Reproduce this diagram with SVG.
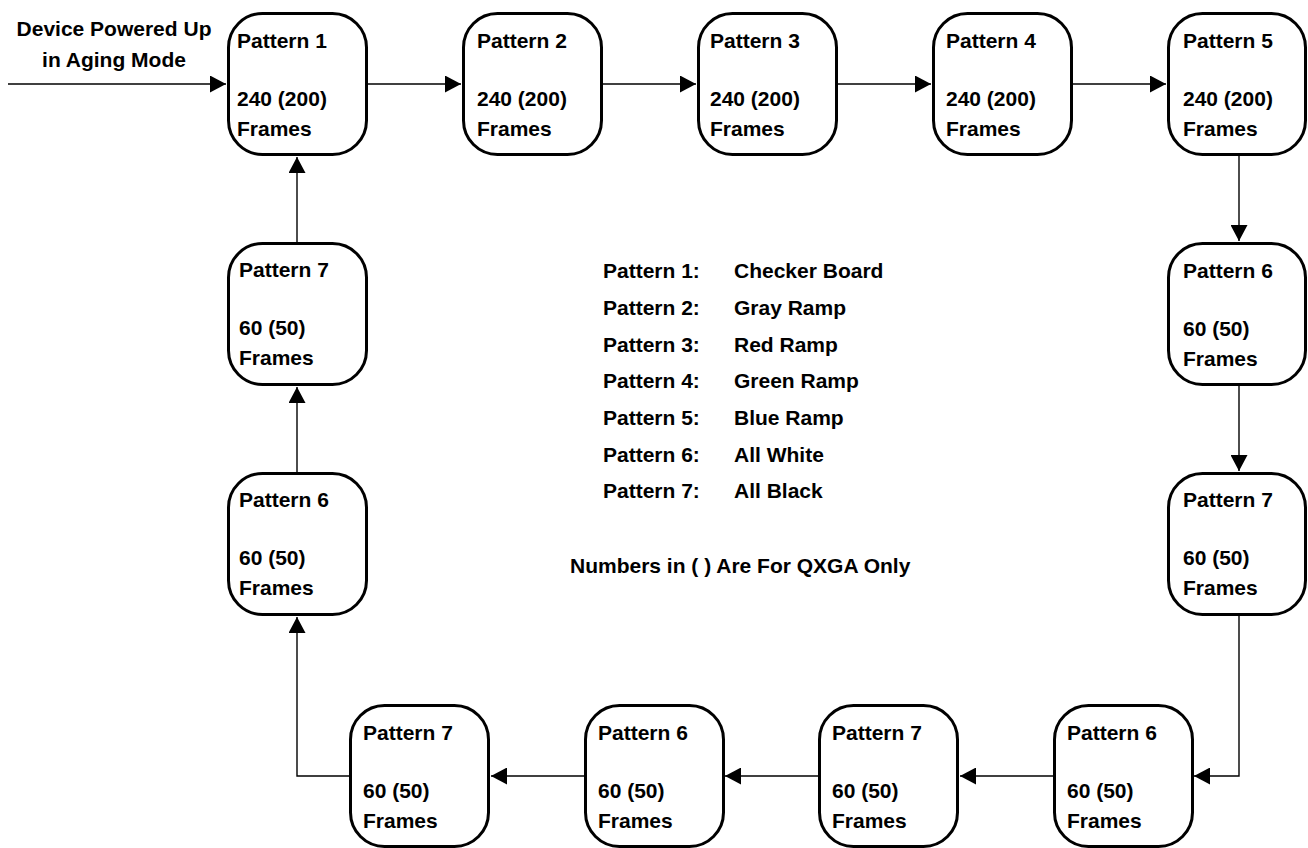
<svg xmlns="http://www.w3.org/2000/svg" width="1308" height="848" viewBox="0 0 1308 848">
<style>
text{font-family:"Liberation Sans",Arial,sans-serif;font-weight:bold;font-size:21px;fill:#000}
.box{fill:#fff;stroke:#000;stroke-width:3}
.conn{fill:none;stroke:#000;stroke-width:1.4}
</style>
<defs>
<marker id="ah" markerUnits="userSpaceOnUse" markerWidth="17" markerHeight="17" refX="16" refY="8.5" orient="auto">
<path d="M0,0 L16,8.5 L0,17 z" fill="#000"/>
</marker>
</defs>
<rect width="1308" height="848" fill="#fff"/>
<g id="connectors">
<path class="conn" d="M8 84 H226" marker-end="url(#ah)"/>
<path class="conn" d="M368 84 H461" marker-end="url(#ah)"/>
<path class="conn" d="M603 84 H696" marker-end="url(#ah)"/>
<path class="conn" d="M838 84 H931" marker-end="url(#ah)"/>
<path class="conn" d="M1073 84 H1166" marker-end="url(#ah)"/>
<path class="conn" d="M1239 156 V241" marker-end="url(#ah)"/>
<path class="conn" d="M1239 386 V471" marker-end="url(#ah)"/>
<path class="conn" d="M1239 616 V776 H1194" marker-end="url(#ah)"/>
<path class="conn" d="M1053 776 H960" marker-end="url(#ah)"/>
<path class="conn" d="M818 776 H725" marker-end="url(#ah)"/>
<path class="conn" d="M584 776 H491" marker-end="url(#ah)"/>
<path class="conn" d="M349 776 H297 V617" marker-end="url(#ah)"/>
<path class="conn" d="M297 472 V387" marker-end="url(#ah)"/>
<path class="conn" d="M297 242 V157" marker-end="url(#ah)"/>
</g>
<g id="start-label">
<text x="114" y="36" text-anchor="middle">Device Powered Up</text>
<text x="114" y="67" text-anchor="middle">in Aging Mode</text>
</g>
<g id="n-t1"><rect class="box" x="228.5" y="13.5" width="138" height="141" rx="34"/><text x="237" y="48">Pattern 1</text><text x="237" y="106">240 (200)</text><text x="237" y="136">Frames</text></g>
<g id="n-t2"><rect class="box" x="463.5" y="13.5" width="138" height="141" rx="34"/><text x="477" y="48">Pattern 2</text><text x="477" y="106">240 (200)</text><text x="477" y="136">Frames</text></g>
<g id="n-t3"><rect class="box" x="698.5" y="13.5" width="138" height="141" rx="34"/><text x="710" y="48">Pattern 3</text><text x="710" y="106">240 (200)</text><text x="710" y="136">Frames</text></g>
<g id="n-t4"><rect class="box" x="933.5" y="13.5" width="138" height="141" rx="34"/><text x="946" y="48">Pattern 4</text><text x="946" y="106">240 (200)</text><text x="946" y="136">Frames</text></g>
<g id="n-t5"><rect class="box" x="1168.5" y="13.5" width="137" height="141" rx="34"/><text x="1183" y="48">Pattern 5</text><text x="1183" y="106">240 (200)</text><text x="1183" y="136">Frames</text></g>
<g id="n-r1"><rect class="box" x="1168.5" y="243.5" width="137" height="141" rx="34"/><text x="1183" y="278">Pattern 6</text><text x="1183" y="336">60 (50)</text><text x="1183" y="366">Frames</text></g>
<g id="n-r2"><rect class="box" x="1168.5" y="473.5" width="137" height="141" rx="34"/><text x="1183" y="507">Pattern 7</text><text x="1183" y="565">60 (50)</text><text x="1183" y="595">Frames</text></g>
<g id="n-b1"><rect class="box" x="1054.5" y="705.5" width="138" height="141" rx="34"/><text x="1067" y="740">Pattern 6</text><text x="1067" y="798">60 (50)</text><text x="1067" y="828">Frames</text></g>
<g id="n-b2"><rect class="box" x="819.5" y="705.5" width="138" height="141" rx="34"/><text x="832" y="740">Pattern 7</text><text x="832" y="798">60 (50)</text><text x="832" y="828">Frames</text></g>
<g id="n-b3"><rect class="box" x="585.5" y="705.5" width="138" height="141" rx="34"/><text x="598" y="740">Pattern 6</text><text x="598" y="798">60 (50)</text><text x="598" y="828">Frames</text></g>
<g id="n-b4"><rect class="box" x="350.5" y="705.5" width="138" height="141" rx="34"/><text x="363" y="740">Pattern 7</text><text x="363" y="798">60 (50)</text><text x="363" y="828">Frames</text></g>
<g id="n-l1"><rect class="box" x="228.5" y="473.5" width="138" height="141" rx="34"/><text x="239" y="507">Pattern 6</text><text x="239" y="565">60 (50)</text><text x="239" y="595">Frames</text></g>
<g id="n-l2"><rect class="box" x="228.5" y="243.5" width="138" height="141" rx="34"/><text x="239" y="277">Pattern 7</text><text x="239" y="335">60 (50)</text><text x="239" y="365">Frames</text></g>
<g id="legend">
<text x="603" y="278">Pattern 1:</text><text x="734" y="278">Checker Board</text>
<text x="603" y="315">Pattern 2:</text><text x="734" y="315">Gray Ramp</text>
<text x="603" y="352">Pattern 3:</text><text x="734" y="352">Red Ramp</text>
<text x="603" y="388">Pattern 4:</text><text x="734" y="388">Green Ramp</text>
<text x="603" y="425">Pattern 5:</text><text x="734" y="425">Blue Ramp</text>
<text x="603" y="462">Pattern 6:</text><text x="734" y="462">All White</text>
<text x="603" y="498">Pattern 7:</text><text x="734" y="498">All Black</text>
<text x="570" y="573">Numbers in ( ) Are For QXGA Only</text>
</g>
</svg>
